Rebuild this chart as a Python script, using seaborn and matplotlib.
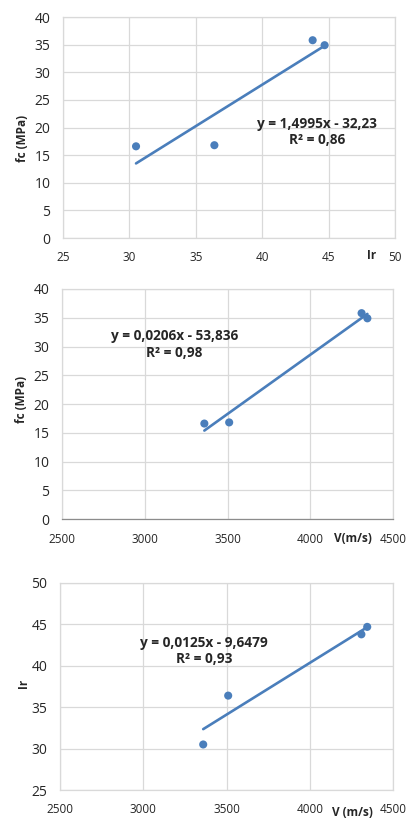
import numpy as np
import pandas as pd
import matplotlib
matplotlib.use("Agg")
import matplotlib.pyplot as plt
import seaborn as sns

# Measured values for the four specimens
ir_values = [30.5, 36.4, 43.8, 44.7]          # rebound index Ir
fc_values = [16.6, 16.8, 35.8, 34.9]          # compressive strength fc (MPa)
v_values = [3360, 3510, 4310, 4345]           # pulse velocity V (m/s)

# Linear trend coefficients (slope, intercept) and R² for each pair
fit_fc_ir = (1.4995, -32.23, "y = 1,4995x - 32,23", "R² = 0,86")
fit_fc_v = (0.0206, -53.836, "y = 0,0206x - 53,836", "R² = 0,98")
fit_ir_v = (0.0125, -9.6479, "y = 0,0125x - 9,6479", "R² = 0,93")

# Axis ticks
ir_ticks = [25, 30, 35, 40, 45, 50]
v_ticks = [2500, 3000, 3500, 4000, 4500]
fc_ticks = [0, 5, 10, 15, 20, 25, 30, 35, 40]
ir_yticks = [25, 30, 35, 40, 45, 50]

sns.set_theme(style="white")
plt.rcParams["font.family"] = ["Open Sans", "DejaVu Sans"]

BLUE = "#4a7ebb"
GRID = "#d9d9d9"
TEXT = "#262626"

fig = plt.figure(figsize=(4.08, 8.18), dpi=100)
ax1 = fig.add_axes([0.1544, 0.7090, 0.8137, 0.2702])
ax2 = fig.add_axes([0.1520, 0.3655, 0.8113, 0.2812])
ax3 = fig.add_axes([0.1471, 0.0342, 0.8162, 0.2531])


def draw_panel(ax, x, y, fit, xticks, yticks, xlabel, ylabel, ann_pos,
               xlab_pos, ylab_pos, xtick_len=0):
    df = pd.DataFrame({"x": x, "y": y})
    slope, intercept, eq, r2 = fit
    xs = np.array([min(x), max(x)], dtype=float)
    trend = pd.DataFrame({"x": xs, "y": slope * xs + intercept})
    sns.lineplot(data=trend, x="x", y="y", ax=ax, color=BLUE, linewidth=1.9,
                 zorder=3)
    sns.scatterplot(data=df, x="x", y="y", ax=ax, color=BLUE, s=34,
                    edgecolor="none", zorder=4)
    ax.set_xlim(xticks[0], xticks[-1])
    ax.set_ylim(yticks[0], yticks[-1])
    ax.set_xticks(xticks)
    ax.set_yticks(yticks)
    ax.set_xlabel("")
    ax.set_ylabel("")
    ax.grid(True, color=GRID, linewidth=0.9)
    ax.set_axisbelow(True)
    for s in ax.spines.values():
        s.set_color(GRID)
        s.set_linewidth(0.9)
    ax.tick_params(axis="y", length=0, pad=9, labelsize=10, labelcolor=TEXT)
    ax.tick_params(axis="x", length=xtick_len, pad=9 if xtick_len == 0 else 6,
                   labelsize=8.5, labelcolor=TEXT, color="#8c8c8c", width=0.9)
    ax.text(ann_pos[0], ann_pos[1], eq + "\n" + r2, transform=ax.transAxes,
            ha="center", va="center", fontsize=9.8, fontweight="bold",
            color=TEXT, linespacing=1.25)
    ax.text(xlab_pos[0], xlab_pos[1], xlabel, transform=ax.transAxes,
            ha="center", va="center", fontsize=8.5, fontweight="bold",
            color=TEXT)
    ax.text(ylab_pos[0], ylab_pos[1], ylabel, transform=ax.transAxes,
            ha="center", va="center", fontsize=8.5, fontweight="bold",
            color=TEXT, rotation=90)


draw_panel(ax1, ir_values, fc_values, fit_fc_ir, ir_ticks, fc_ticks,
           "Ir", "fc (MPa)", (0.765, 0.48), (0.93, -0.077), (-0.123, 0.45))
draw_panel(ax2, v_values, fc_values, fit_fc_v, v_ticks, fc_ticks,
           "V(m/s)", "fc (MPa)", (0.34, 0.76), (0.879, -0.083),
           (-0.121, 0.52), xtick_len=4)
ax2.spines["bottom"].set_color("#8c8c8c")
draw_panel(ax3, v_values, ir_values, fit_ir_v, v_ticks, ir_yticks,
           "V (m/s)", "Ir", (0.433, 0.672), (0.877, -0.108),
           (-0.111, 0.517))

fig.savefig("out.png", dpi=100)
